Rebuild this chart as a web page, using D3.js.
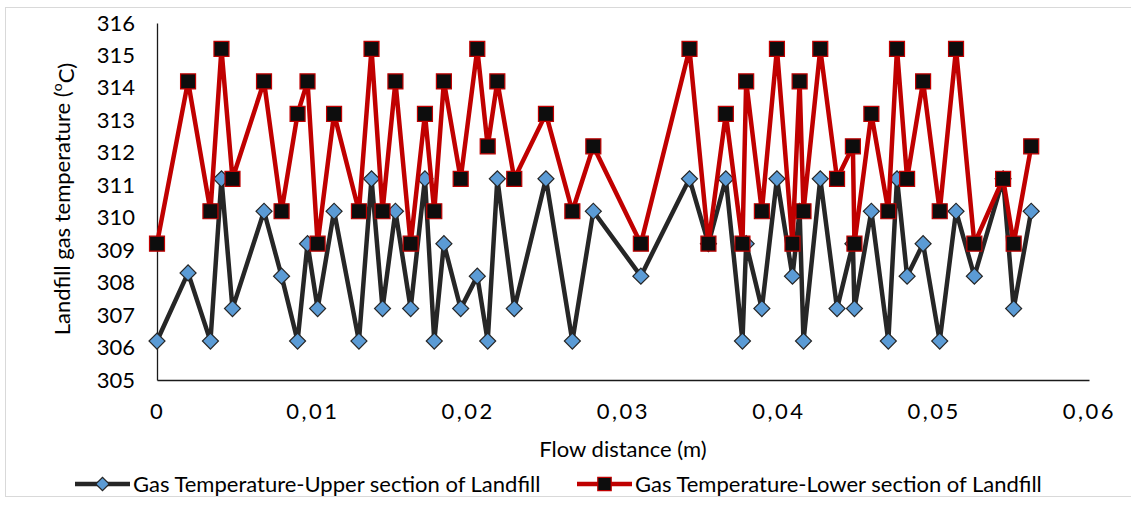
<!DOCTYPE html>
<html>
<head>
<meta charset="utf-8">
<script src="https://cdn.jsdelivr.net/npm/d3@7"></script>
<style>
  body { margin: 0; background: #fff; }
  text { font-family: Lato, "Open Sans", sans-serif; fill: #000; }
</style>
</head>
<body>
<div id="chart"></div>
<script>
// Flow distance (m), shared by both series
const distance = [0, 0.00200, 0.00344, 0.00415, 0.00486, 0.00689, 0.00802, 0.00905, 0.00969, 0.01034,
  0.01140, 0.01300, 0.01381, 0.01452, 0.01535, 0.01633, 0.01725, 0.01785, 0.01847, 0.01955,
  0.02062, 0.02129, 0.02191, 0.02300, 0.02504, 0.02674, 0.02809, 0.03115, 0.03428, 0.03550,
  0.03662, 0.03769, 0.03793, 0.03894, 0.03991, 0.04091, 0.04137, 0.04162, 0.04270, 0.04378,
  0.04480, 0.04490, 0.04599, 0.04708, 0.04764, 0.04829, 0.04932, 0.05039, 0.05144, 0.05262,
  0.05447, 0.05515, 0.05628];

const upperTemp = [306.2, 308.3, 306.2, 311.2, 307.2, 310.2, 308.2, 306.2, 309.2, 307.2,
  310.2, 306.2, 311.2, 307.2, 310.2, 307.2, 311.2, 306.2, 309.2, 307.2,
  308.2, 306.2, 311.2, 307.2, 311.2, 306.2, 310.2, 308.2, 311.2, 309.2,
  311.2, 306.2, 309.2, 307.2, 311.2, 308.2, 310.2, 306.2, 311.2, 307.2,
  309.2, 307.2, 310.2, 306.2, 311.2, 308.2, 309.2, 306.2, 310.2, 308.2,
  311.2, 307.2, 310.2];

const lowerTemp = [309.2, 314.2, 310.2, 315.2, 311.2, 314.2, 310.2, 313.2, 314.2, 309.2,
  313.2, 310.2, 315.2, 310.2, 314.2, 309.2, 313.2, 310.2, 314.2, 311.2,
  315.2, 312.2, 314.2, 311.2, 313.2, 310.2, 312.2, 309.2, 315.2, 309.2,
  313.2, 309.2, 314.2, 310.2, 315.2, 309.2, 314.2, 310.2, 315.2, 311.2,
  312.2, 309.2, 313.2, 310.2, 315.2, 311.2, 314.2, 310.2, 315.2, 309.2,
  311.2, 309.2, 312.2];

const xTicks = [0, 0.01, 0.02, 0.03, 0.04, 0.05, 0.06];
const yTicks = [305, 306, 307, 308, 309, 310, 311, 312, 313, 314, 315, 316];

const seriesNames = ["Gas Temperature-Upper section of Landfill", "Gas Temperature-Lower section of Landfill"];

const W = 1131, H = 505;
const FS = 22;
const margin = { top: 23, left: 157, right: 42, bottom: 125 },
    width = W - margin.left - margin.right,
    height = H - margin.top - margin.bottom;

const svg = d3.select("#chart").append("svg")
    .attr("width", W)
    .attr("height", H);

// chart area border
svg.append("rect")
    .attr("x", 5.5).attr("y", 7.5)
    .attr("width", W + 10).attr("height", 489)
    .attr("fill", "none")
    .attr("stroke", "#d9d9d9");

const g = svg.append("g")
    .attr("transform", `translate(${margin.left},${margin.top})`);

const x = d3.scaleLinear().domain([0, 0.06]).range([0, width]);
const y = d3.scaleLinear().domain([305, 316]).range([height, 0]);

const comma = d3.formatLocale({ decimal: ",", thousands: ".", grouping: [3], currency: ["", ""] });
const fmt = comma.format(".2~f");

// axes
const yAxis = g.append("g")
    .call(d3.axisLeft(y).tickValues(yTicks).tickSize(0).tickPadding(22).tickFormat(d3.format("d")));
const xAxis = g.append("g")
    .attr("transform", `translate(0,${height})`)
    .call(d3.axisBottom(x).tickValues(xTicks).tickSize(0).tickPadding(23).tickFormat(fmt));

[yAxis, xAxis].forEach(a => {
  a.select(".domain").attr("stroke", "#1a1a1a").attr("stroke-width", 1.3);
  a.selectAll("text").attr("font-size", FS).attr("font-family", "Lato, sans-serif").attr("fill", "#000");
});
xAxis.selectAll("text").attr("letter-spacing", 2.5);

// axis titles
svg.append("text")
    .attr("x", margin.left + width / 2).attr("y", 449)
    .attr("dy", "0.35em")
    .attr("text-anchor", "middle")
    .attr("font-size", FS)
    .text("Flow distance (m)");

const yTitle = svg.append("text")
    .attr("transform", "translate(62,199) rotate(-90)")
    .attr("dy", "0.35em")
    .attr("text-anchor", "middle")
    .attr("font-size", FS);
yTitle.append("tspan").text("Landfill gas temperature (");
yTitle.append("tspan").attr("font-size", 14).attr("dy", "-0.55em").text("o");
yTitle.append("tspan").attr("dy", "0.55em").text("C)");

const upper = distance.map((d, i) => ({ x: d, y: upperTemp[i] }));
const lower = distance.map((d, i) => ({ x: d, y: lowerTemp[i] }));

const line = d3.line().x(d => x(d.x)).y(d => y(d.y));

const diamond = d3.symbol().type(d3.symbolSquare).size(128);
const square = d3.symbol().type(d3.symbolSquare).size(225);

// upper series
g.append("path")
    .datum(upper)
    .attr("d", line)
    .attr("fill", "none")
    .attr("stroke", "#262626")
    .attr("stroke-width", 4.5)
    .attr("stroke-linejoin", "round");

g.selectAll(".upper")
    .data(upper)
    .join("path")
    .attr("class", "upper")
    .attr("transform", d => `translate(${x(d.x)},${y(d.y)}) rotate(45)`)
    .attr("d", diamond)
    .attr("fill", "#5b9bd5")
    .attr("stroke", "#262626")
    .attr("stroke-width", 1.2);

// lower series
g.append("path")
    .datum(lower)
    .attr("d", line)
    .attr("fill", "none")
    .attr("stroke", "#c00000")
    .attr("stroke-width", 4.5)
    .attr("stroke-linejoin", "round");

g.selectAll(".lower")
    .data(lower)
    .join("path")
    .attr("class", "lower")
    .attr("transform", d => `translate(${x(d.x)},${y(d.y)})`)
    .attr("d", square)
    .attr("fill", "#0d0d0d")
    .attr("stroke", "#c00000")
    .attr("stroke-width", 1.2);

// legend
const legendY = 484;
const legendItems = [
  { name: seriesNames[0], x0: 75, color: "#262626", fill: "#5b9bd5", size: 90, rot: 45 },
  { name: seriesNames[1], x0: 577, color: "#c00000", fill: "#0d0d0d", size: 180, rot: 0 }
];
const leg = svg.append("g").selectAll("g")
    .data(legendItems)
    .join("g")
    .attr("transform", d => `translate(${d.x0},${legendY})`);
leg.append("line")
    .attr("x1", 0).attr("x2", 55)
    .attr("stroke", d => d.color)
    .attr("stroke-width", 4.5);
leg.append("path")
    .attr("transform", d => `translate(27.5,0) rotate(${d.rot})`)
    .attr("d", d => d3.symbol().type(d3.symbolSquare).size(d.size)())
    .attr("fill", d => d.fill)
    .attr("stroke", d => d.color)
    .attr("stroke-width", 1.2);
leg.append("text")
    .attr("x", 58)
    .attr("dy", "0.35em")
    .attr("font-size", FS)
    .text(d => d.name);
</script>
</body>
</html>
